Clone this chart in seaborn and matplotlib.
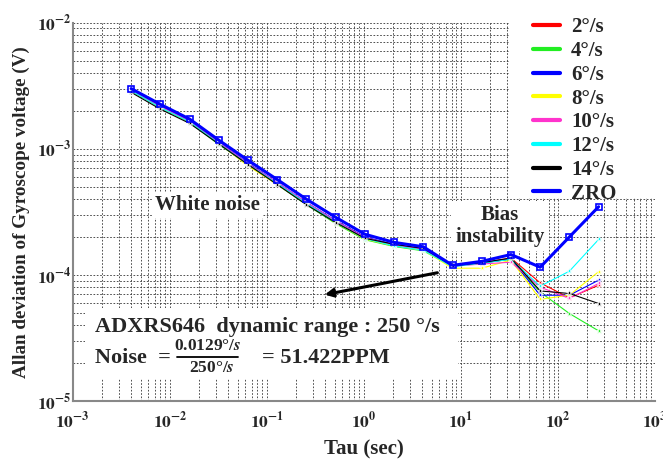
import matplotlib
matplotlib.use("Agg")
import matplotlib.pyplot as plt
from matplotlib.lines import Line2D
from matplotlib.patches import Rectangle
import numpy as np
import pandas as pd
import seaborn as sns

# Averaging times (s)
tau = [0.004, 0.008, 0.016, 0.032, 0.064, 0.128, 0.256, 0.512, 1.024, 2.048,
       4.096, 8.192, 16.384, 32.768, 65.536, 131.072, 262.144]

# Allan deviation of the gyroscope output voltage (V) for each input rate
rate_2 = [2.90e-3, 2.15e-3, 1.65e-3, 1.12e-3, 7.4e-4, 5.3e-4, 3.70e-4, 2.65e-4, 1.98e-4, 1.73e-4,
          1.60e-4, 1.18e-4, 1.25e-4, 1.36e-4, 8.65e-5, 6.57e-5, 8.28e-5]
rate_4 = [2.88e-3, 2.12e-3, 1.62e-3, 1.08e-3, 7.6e-4, 5.2e-4, 3.60e-4, 2.55e-4, 1.90e-4, 1.68e-4,
          1.55e-4, 1.17e-4, 1.24e-4, 1.33e-4, 7.30e-5, 4.94e-5, 3.60e-5]
rate_6 = [2.92e-3, 2.17e-3, 1.66e-3, 1.12e-3, 7.7e-4, 5.4e-4, 3.75e-4, 2.70e-4, 2.00e-4, 1.74e-4,
          1.60e-4, 1.18e-4, 1.24e-4, 1.34e-4, 6.90e-5, 6.90e-5, 9.08e-5]
rate_8 = [2.90e-3, 2.13e-3, 1.63e-3, 1.10e-3, 7.3e-4, 5.2e-4, 3.65e-4, 2.60e-4, 1.92e-4, 1.70e-4,
          1.57e-4, 1.13e-4, 1.13e-4, 1.31e-4, 6.41e-5, 6.90e-5, 1.06e-4]
rate_10 = [2.92e-3, 2.16e-3, 1.66e-3, 1.13e-3, 7.6e-4, 5.4e-4, 3.75e-4, 2.68e-4, 1.98e-4, 1.72e-4,
           1.60e-4, 1.17e-4, 1.22e-4, 1.26e-4, 8.00e-5, 6.50e-5, 8.55e-5]
rate_12 = [2.88e-3, 2.12e-3, 1.63e-3, 1.10e-3, 7.5e-4, 5.3e-4, 3.68e-4, 2.62e-4, 1.94e-4, 1.70e-4,
           1.57e-4, 1.16e-4, 1.24e-4, 1.33e-4, 8.13e-5, 1.07e-4, 1.91e-4]
rate_14 = [2.80e-3, 2.06e-3, 1.59e-3, 1.09e-3, 7.5e-4, 5.2e-4, 3.60e-4, 2.60e-4, 1.95e-4, 1.75e-4,
           1.62e-4, 1.18e-4, 1.25e-4, 1.36e-4, 7.46e-5, 7.12e-5, 5.93e-5]
zro = [3.00e-3, 2.25e-3, 1.72e-3, 1.17e-3, 8.1e-4, 5.7e-4, 3.98e-4, 2.86e-4, 2.10e-4, 1.81e-4,
       1.67e-4, 1.19e-4, 1.28e-4, 1.45e-4, 1.15e-4, 2.00e-4, 3.47e-4]

labels = ["2°/s", "4°/s", "6°/s", "8°/s", "10°/s", "12°/s", "14°/s", "ZRO"]
colors = ["#ff0000", "#22ee22", "#0000ff", "#ffff00", "#ff33cc", "#00ffff", "#000000", "#0000ff"]
series = [rate_2, rate_4, rate_6, rate_8, rate_10, rate_12, rate_14, zro]

x_ticks = [1e-3, 1e-2, 1e-1, 1e0, 1e1, 1e2, 1e3]
x_ticklabels = [r"$\mathbf{10^{-3}}$", r"$\mathbf{10^{-2}}$", r"$\mathbf{10^{-1}}$",
                r"$\mathbf{10^{0}}$", r"$\mathbf{10^{1}}$", r"$\mathbf{10^{2}}$", r"$\mathbf{10^{3}}$"]
y_ticks = [1e-5, 1e-4, 1e-3, 1e-2]
y_ticklabels = [r"$\mathbf{10^{-5}}$", r"$\mathbf{10^{-4}}$", r"$\mathbf{10^{-3}}$", r"$\mathbf{10^{-2}}$"]

rows = []
for lab, vals in zip(labels, series):
    for t, v in zip(tau, vals):
        rows.append({"tau": t, "adev": v, "series": lab})
df = pd.DataFrame(rows)

sns.set_theme(style="white")
plt.rcParams["font.family"] = ["Liberation Serif", "DejaVu Serif"]
plt.rcParams["font.weight"] = "bold"
plt.rcParams["mathtext.fontset"] = "stix"

W, H = 663, 462
fig = plt.figure(figsize=(W / 100, H / 100), dpi=100)
fig.patch.set_facecolor("white")
ax = fig.add_axes([0.1097, 0.132, 0.8783, 0.819])
ax.set_facecolor("white")


def px(x, y):
    """Pixel position (from top-left) to figure fraction."""
    return x / W, 1 - y / H


thin = df[df["series"] != "ZRO"]
pal = {l: c for l, c in zip(labels[:-1], colors[:-1])}
sns.lineplot(data=thin, x="tau", y="adev", hue="series", palette=pal,
             hue_order=labels[:-1], marker="*", markersize=4, markeredgewidth=0.5,
             linewidth=0.8, legend=False, ax=ax, zorder=3)
sns.lineplot(data=df[df["series"] == "ZRO"], x="tau", y="adev", color="#0000ff",
             marker="s", markersize=4, markerfacecolor="none", markeredgecolor="#0000ff",
             markeredgewidth=1.2, linewidth=2.2, legend=False, ax=ax, zorder=4)

ax.set_xscale("log")
ax.set_yscale("log")
ax.set_xlim(1e-3, 1e3)
ax.set_ylim(1e-5, 1e-2)
ax.set_xticks(x_ticks)
ax.set_xticklabels(x_ticklabels, fontsize=12.5)
ax.set_yticks(y_ticks)
ax.set_yticklabels(y_ticklabels, fontsize=12.5)
ax.tick_params(axis="x", which="both", length=0, pad=7.5)
ax.tick_params(axis="y", which="both", length=0, pad=1)
ax.grid(True, which="both", color="#333333", linestyle=(0, (2, 2)), linewidth=0.6)
for s in ["top", "right"]:
    ax.spines[s].set_visible(False)
for s in ["left", "bottom"]:
    ax.spines[s].set_color("#888888")
    ax.spines[s].set_linewidth(1.5)

ax.set_xlabel("Tau (sec)", fontsize=15, fontweight="bold", labelpad=5)
ax.set_ylabel("Allan deviation of Gyroscope voltage (V)", fontsize=13.8, fontweight="bold",
              labelpad=5)

# Annotations
ax.text(0.232, 0.518, "White noise", transform=ax.transAxes, fontsize=15, fontweight="bold",
        ha="center", va="center", zorder=5,
        bbox=dict(facecolor="white", edgecolor="none", pad=2))
ax.text(0.734, 0.4626, "Bias\ninstability", transform=ax.transAxes, fontsize=15,
        fontweight="bold", ha="center", va="center", linespacing=1.1, zorder=5,
        bbox=dict(facecolor="white", edgecolor="none", pad=3))
ax.annotate("", xy=(0.37, 6.9e-5), xytext=(6.1, 1.05e-4),
            arrowprops=dict(arrowstyle="-|>", color="black", lw=2.2, mutation_scale=12),
            zorder=6)

# Sensor note on a white panel
ax.add_patch(Rectangle(px(85, 379), 373 / W, 71 / H, transform=fig.transFigure,
                       clip_on=False, facecolor="white", edgecolor="none", zorder=5))
fig.text(*px(95, 327), "ADXRS646  dynamic range : 250 °/s", fontsize=16,
         fontweight="bold", ha="left", va="center", zorder=6)
fig.text(*px(95, 358), "Noise  =", fontsize=16, fontweight="bold",
         ha="left", va="center", zorder=6)
fig.text(*px(208, 346), r"0.0129°/$\mathit{s}$", fontsize=12.5, fontweight="bold",
         ha="center", va="center", zorder=6)
fig.add_artist(Line2D([177 / W, 238 / W], [1 - 357 / H, 1 - 357 / H],
                      transform=fig.transFigure, color="black", lw=1.3, zorder=6))
fig.text(*px(212, 368), r"250°/$\mathit{s}$", fontsize=12.5, fontweight="bold",
         ha="center", va="center", zorder=6)
fig.text(*px(262, 358), "= 51.422PPM", fontsize=16, fontweight="bold",
         ha="left", va="center", zorder=6)

# Legend on its own white panel at the upper right
lax = fig.add_axes([509 / W, 1 - 198 / H, (W - 509) / W, 198 / H], zorder=2)
lax.set_facecolor("white")
lax.set_xticks([])
lax.set_yticks([])
for s in lax.spines.values():
    s.set_visible(False)
handles = [Line2D([0], [0], color=c, lw=3) for c in colors]
lax.legend(handles, labels, loc="upper left", bbox_to_anchor=px(522, 6),
           bbox_transform=fig.transFigure,
           frameon=False, handlelength=1.25, handletextpad=0.55,
           labelspacing=0.18, borderaxespad=0.15, prop={"weight": "bold", "size": 15})

fig.savefig("out.png", dpi=100, facecolor="white")
